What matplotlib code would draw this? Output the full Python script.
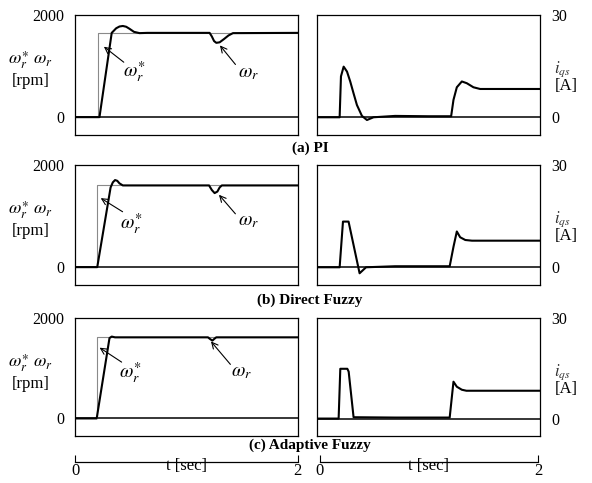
import matplotlib
matplotlib.use('Agg')
import matplotlib.pyplot as plt

plt.rcParams['font.family'] = ['Liberation Serif', 'DejaVu Serif']
plt.rcParams['mathtext.fontset'] = 'stix'

W, H = 592, 483

# speed command level and responses [rpm]
ref_a, ref_b, ref_c = 1650, 1600, 1615
step_a, step_b, step_c = 0.21, 0.20, 0.195

t_wa = [0, 0.22, 0.33, 0.37, 0.40, 0.43, 0.46, 0.49, 0.53, 0.58, 0.65, 1.21, 1.23, 1.25, 1.27, 1.30, 1.34, 1.38, 1.42, 2.0]
w_a = [0, 0, 1650, 1740, 1775, 1785, 1770, 1730, 1670, 1645, 1650, 1650, 1580, 1490, 1455, 1465, 1530, 1600, 1645, 1650]

t_wb = [0, 0.20, 0.32, 0.34, 0.36, 0.38, 0.40, 0.43, 1.205, 1.23, 1.255, 1.28, 1.30, 1.32, 2.0]
w_b = [0, 0, 1560, 1660, 1705, 1690, 1640, 1600, 1600, 1510, 1450, 1480, 1560, 1600, 1600]

t_wc = [0, 0.195, 0.31, 0.33, 0.36, 1.195, 1.215, 1.235, 1.255, 1.27, 2.0]
w_c = [0, 0, 1600, 1630, 1615, 1615, 1580, 1550, 1590, 1615, 1615]

# q-axis current [A]
t_ia = [0, 0.203, 0.215, 0.239, 0.269, 0.298, 0.328, 0.358, 0.403, 0.448, 0.507, 0.7, 1.0, 1.203,
        1.224, 1.254, 1.299, 1.343, 1.403, 1.463, 2.0]
i_a = [0, 0, 12.0, 14.85, 13.4, 10.5, 7.0, 3.6, 0.4, -0.8, 0.0, 0.4, 0.3, 0.3,
       5.1, 8.8, 10.5, 10.0, 8.8, 8.3, 8.3]

t_ib = [0, 0.203, 0.233, 0.283, 0.382, 0.44, 0.7, 1.19, 1.224, 1.254, 1.284, 1.33, 1.39, 2.0]
i_b = [0, 0, 13.4, 13.4, -1.76, 0.0, 0.3, 0.3, 6.0, 10.5, 8.8, 8.0, 7.8, 7.8]

t_ic = [0, 0.194, 0.209, 0.272, 0.284, 0.328, 0.7, 1.19, 1.224, 1.254, 1.299, 1.34, 2.0]
i_c = [0, 0, 14.85, 14.85, 14.0, 0.4, 0.3, 0.3, 11.0, 9.5, 8.6, 8.3, 8.3]

captions = ['(a) PI', '(b) Direct Fuzzy', '(c) Adaptive Fuzzy']

# row geometry in pixels: top, bottom, caption y
rows = [(15, 135, 148), (165, 285, 300), (318, 436, 445)]
left_x = (75, 297.5)
right_x = (317, 540)

# arrow (tip, tail) and label position for w* and w, per row
notes = [
    [((0.24, 1413), (0.458, 1042), (0.53, 860)), ((1.287, 1447), (1.458, 989), (1.56, 846))],
    [((0.21, 1380), (0.449, 1056), (0.51, 827)), ((1.278, 1458), (1.458, 1003), (1.56, 891))],
    [((0.20, 1440), (0.44, 1091), (0.50, 889)), ((1.206, 1576), (1.413, 1034), (1.50, 921))],
]


def make_ax(fig, xs, top, bot):
    ax = fig.add_axes([xs[0] / W, 1 - bot / H, (xs[1] - xs[0]) / W, (bot - top) / H])
    ax.set_xlim(0, 2)
    ax.set_xticks([])
    for s in ax.spines.values():
        s.set_linewidth(0.9)
    ax.axhline(0, color='black', lw=1.1)
    return ax


def speed_panel(fig, row, t, w, ref, t_step, arrows):
    top, bot, _ = rows[row]
    ax = make_ax(fig, left_x, top, bot)
    ax.set_ylim(-350, 2000)
    ax.set_yticks([0, 2000])
    ax.tick_params(axis='y', length=0, pad=8, labelsize=11.5)
    ax.plot([0, t_step, t_step, 2], [0, 0, ref, ref], color='#8a8a8a', lw=0.8)
    ax.plot(t, w, color='black', lw=1.5)
    for (tip, tail, txt), lab in zip(arrows, [r'$\omega_r^{\ast}$', r'$\omega_r$']):
        ax.annotate('', xy=tip, xytext=tail,
                    arrowprops=dict(arrowstyle='->', lw=0.8, color='black', mutation_scale=11))
        ax.text(txt[0], txt[1], lab, fontsize=14, ha='center', va='center')
    fig.text(30 / W, 1 - (top + 45) / H, r'$\omega_r^{\ast}\ \omega_r$', fontsize=13, ha='center', va='center')
    fig.text(31 / W, 1 - (top + 66) / H, '[rpm]', fontsize=12, ha='center', va='center')
    return ax


def current_panel(fig, row, t, i):
    top, bot, cap_y = rows[row]
    ax = make_ax(fig, right_x, top, bot)
    ax.set_ylim(-5.2, 30)
    ax.set_yticks([0, 30])
    ax.yaxis.tick_right()
    ax.tick_params(axis='y', length=0, pad=8, labelsize=11.5)
    ax.plot(t, i, color='black', lw=1.5)
    fig.text(562 / W, 1 - (top + 54) / H, r'$i_{qs}$', fontsize=12, ha='center', va='center', color='#333333')
    fig.text(566 / W, 1 - (top + 71) / H, '[A]', fontsize=12, ha='center', va='center')
    fig.text(310 / W, 1 - cap_y / H, captions[row], fontsize=11, fontweight='bold', ha='center', va='center')
    return ax


def time_axis(fig, xs):
    ax = fig.add_axes([xs[0] / W, 1 - 462 / H, (xs[1] - xs[0]) / W, 0.0001])
    ax.set_xlim(0, 2)
    ax.set_yticks([])
    for s in ['top', 'left', 'right']:
        ax.spines[s].set_visible(False)
    ax.spines['bottom'].set_linewidth(0.9)
    ax.set_xticks([0, 2])
    ax.tick_params(axis='x', direction='in', length=5, pad=1, labelsize=12)
    fig.text((xs[0] + xs[1]) / 2 / W, 1 - 466 / H, 't [sec]', fontsize=12, ha='center', va='center')


if __name__ == '__main__':
    fig = plt.figure(figsize=(W / 100, H / 100), dpi=100)
    speed_panel(fig, 0, t_wa, w_a, ref_a, step_a, notes[0])
    speed_panel(fig, 1, t_wb, w_b, ref_b, step_b, notes[1])
    speed_panel(fig, 2, t_wc, w_c, ref_c, step_c, notes[2])
    current_panel(fig, 0, t_ia, i_a)
    current_panel(fig, 1, t_ib, i_b)
    current_panel(fig, 2, t_ic, i_c)
    time_axis(fig, (75, 297.5))
    time_axis(fig, (320, 538))
    fig.savefig('out.png', dpi=100)
